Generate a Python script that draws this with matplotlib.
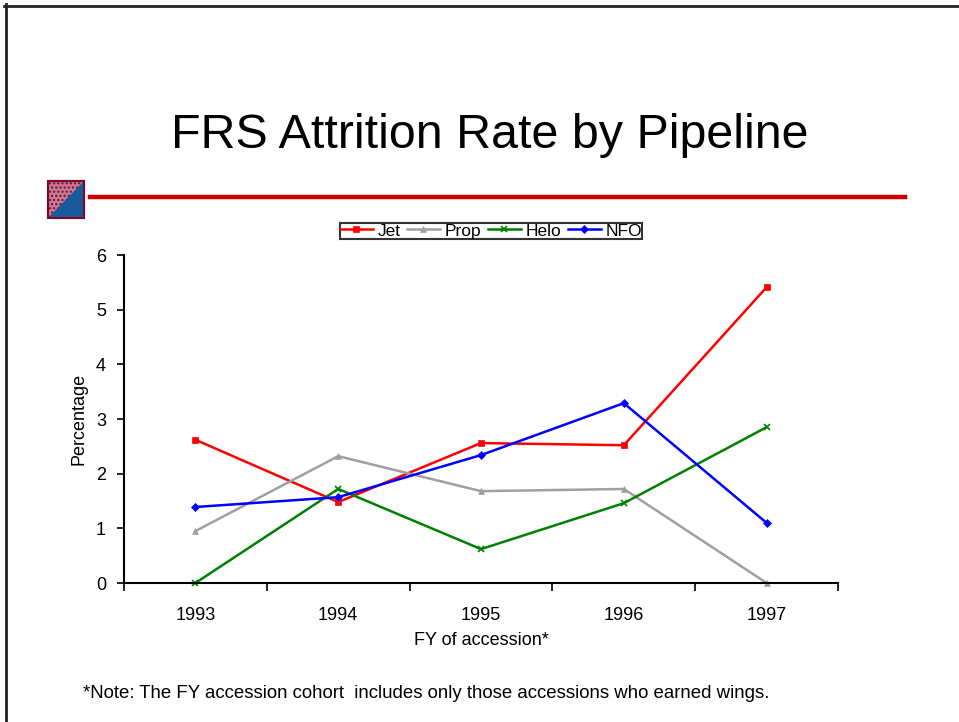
import matplotlib
matplotlib.use("Agg")
import matplotlib.pyplot as plt
from matplotlib.patches import Polygon, Rectangle
from matplotlib.lines import Line2D

plt.rcParams['font.family'] = ['Liberation Sans', 'DejaVu Sans']

years = ['1993', '1994', '1995', '1996', '1997']
jet = [2.62, 1.48, 2.56, 2.52, 5.41]
prop = [0.95, 2.32, 1.68, 1.72, 0.0]
helo = [0.0, 1.72, 0.62, 1.46, 2.85]
nfo = [1.39, 1.57, 2.34, 3.29, 1.10]
series_names = ['Jet', 'Prop', 'Helo', 'NFO']

W, H = 959, 722
fig = plt.figure(figsize=(W / 100, H / 100), dpi=100)

def fx(px):
    return px / W

def fy(py):
    return 1 - py / H

# Slide border (top and left)
fig.add_artist(Line2D([fx(4), 1.0], [fy(5.5), fy(5.5)], color='#222222', lw=2.0))
fig.add_artist(Line2D([fx(5.5), fx(5.5)], [fy(4), 0.0], color='#222222', lw=2.0))

# Title
fig.text(fx(490), fy(135), 'FRS Attrition Rate by Pipeline', ha='center', va='center',
         fontsize=34.8, color='black')

# Red rule
fig.add_artist(Line2D([fx(90), fx(905)], [fy(197), fy(197)], color='#CC0000', lw=3.2))

# Icon
x0, x1, y0, y1 = fx(48), fx(84), fy(218), fy(181)
fig.add_artist(Rectangle((x0, y0), x1 - x0, y1 - y0, facecolor='#C77A98', edgecolor='#7A0A2A',
                         lw=1.5, hatch='....', transform=fig.transFigure))
fig.add_artist(Polygon([[x1, y1], [x1, y0], [x0, y0]], closed=True, facecolor='#1A5A9C',
                       edgecolor='none', transform=fig.transFigure))
fig.add_artist(Rectangle((x0, y0), x1 - x0, y1 - y0, facecolor='none', edgecolor='#7A0A2A',
                         lw=1.5, transform=fig.transFigure))

# Axes
ax = fig.add_axes([fx(124), fy(583), fx(838) - fx(124), fy(255) - fy(583)])
xs = list(range(len(years)))
styles = [
    (jet, '#FF0000', 's', 5),
    (prop, '#A0A0A0', '^', 5),
    (helo, '#008000', 'x', 5),
    (nfo, '#0000FF', 'D', 4),
]
handles = []
for (vals, col, mk, ms), name in zip(styles, series_names):
    h, = ax.plot(xs, vals, color=col, marker=mk, markersize=ms, lw=1.8,
                 markeredgewidth=1.2 if mk == 'x' else 0.5, clip_on=False, label=name)
    handles.append(h)

ax.set_xlim(-0.5, 4.5)
ax.set_ylim(0, 6)
ax.set_yticks(range(0, 7))
ax.set_xticks(xs)
ax.set_xticklabels(years)
ax.set_xticks([i - 0.5 for i in range(6)], minor=True)
ax.tick_params(axis='x', which='major', length=0, pad=17, labelsize=13)
ax.tick_params(axis='x', which='minor', length=6, width=1.2, direction='out')
ax.tick_params(axis='y', which='major', length=5, width=1.2, direction='out', pad=8, labelsize=13)
for s in ['top', 'right']:
    ax.spines[s].set_visible(False)
for s in ['left', 'bottom']:
    ax.spines[s].set_linewidth(1.5)
ax.set_xlabel('FY of accession*', fontsize=13, labelpad=6)
ax.set_ylabel('Percentage', fontsize=13, labelpad=6)

leg = fig.legend(handles=handles, loc='center', bbox_to_anchor=(fx(491), fy(231)), ncol=4,
                 fontsize=12.5, frameon=True, fancybox=False, edgecolor='black',
                 handlelength=1.9, handletextpad=0.3, columnspacing=0.35,
                 borderpad=0.0, borderaxespad=0)
leg.get_frame().set_linewidth(1.5)

fig.text(fx(83), fy(693), '*Note: The FY accession cohort  includes only those accessions who earned wings.',
         ha='left', va='center', fontsize=13.4)

fig.savefig('out.png', dpi=100)
